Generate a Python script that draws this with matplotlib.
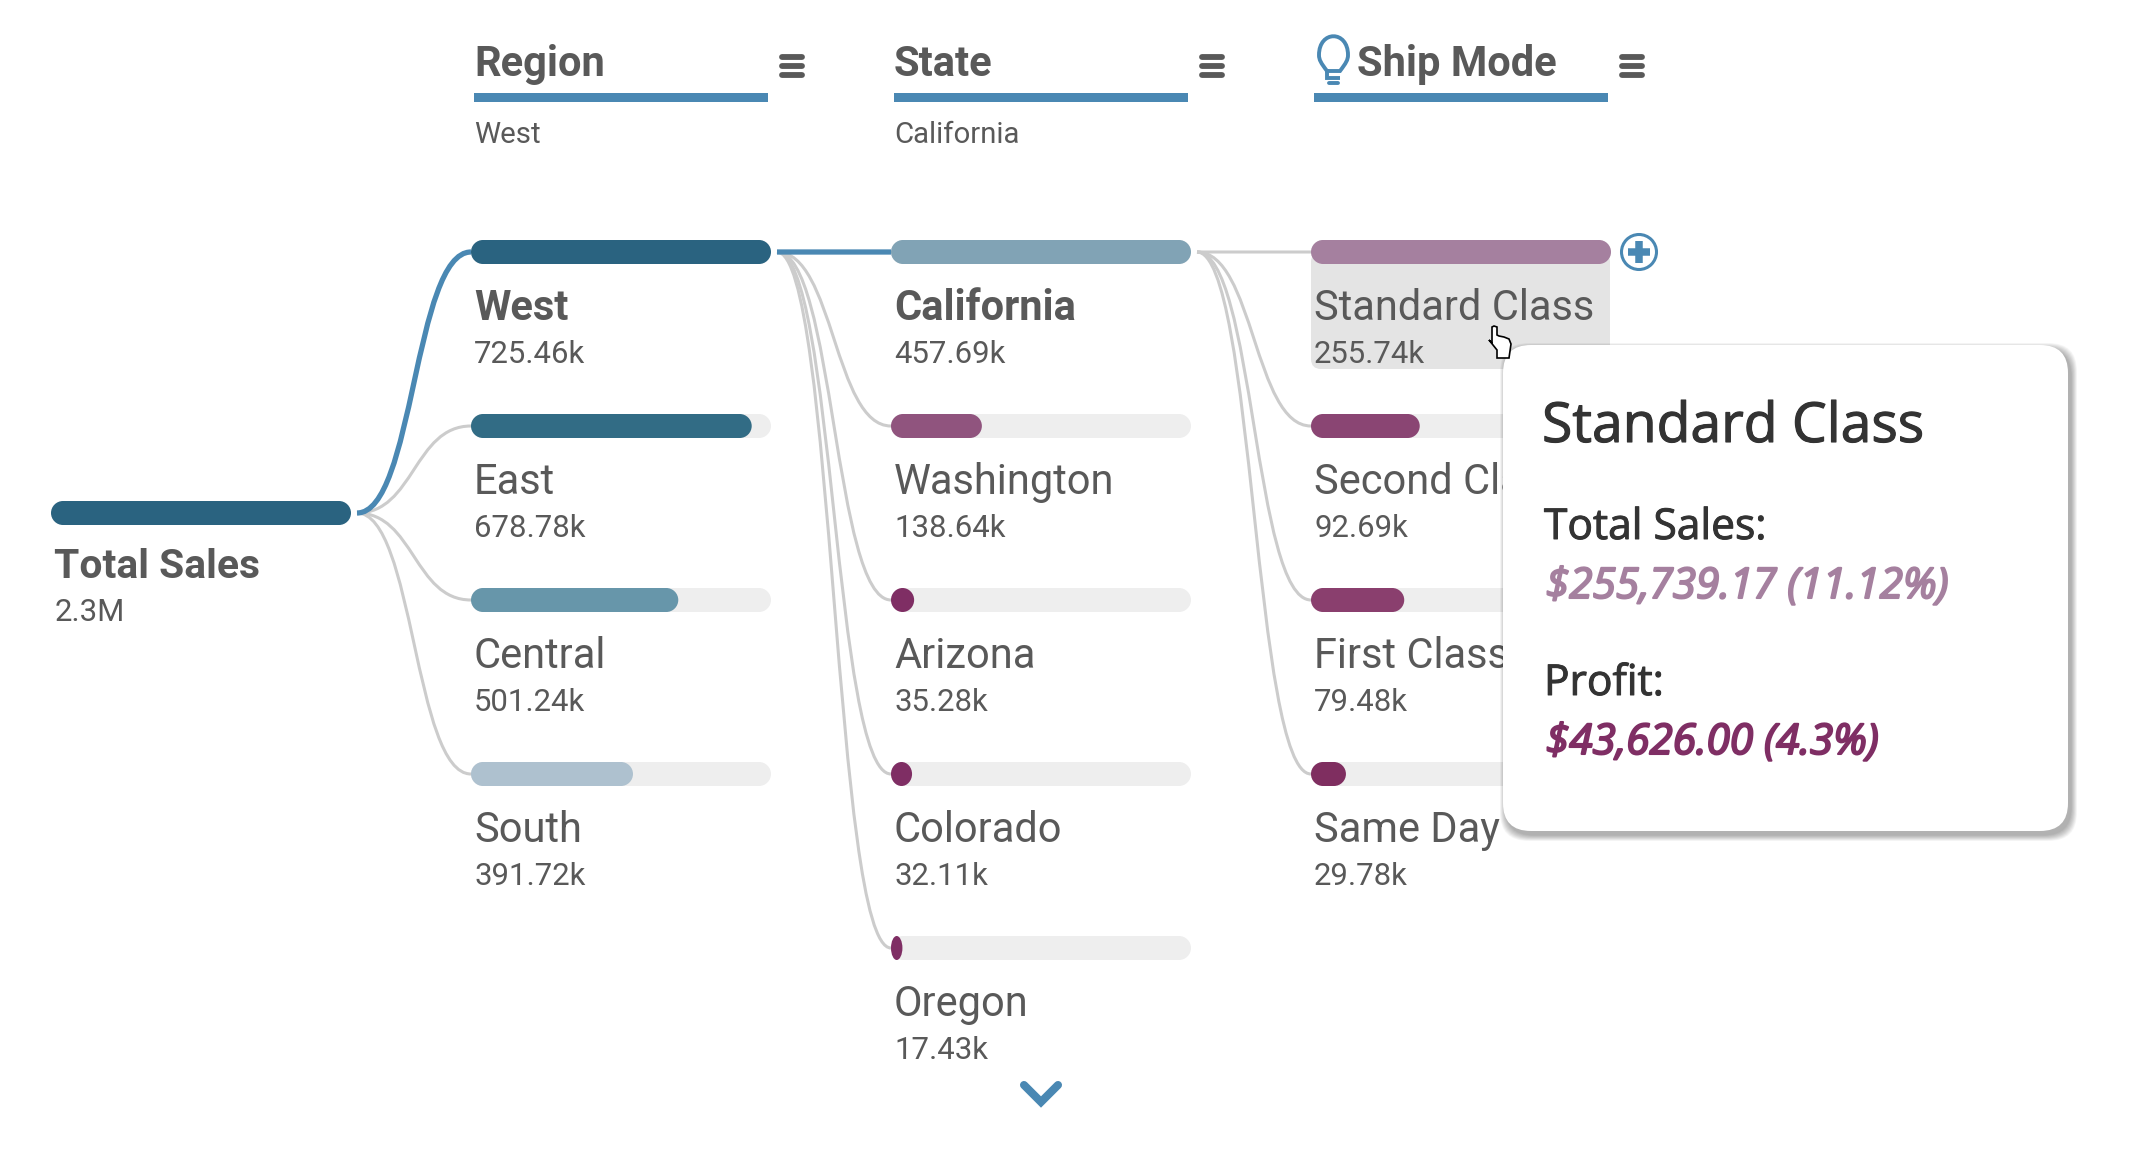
import matplotlib
matplotlib.use('Agg')
import matplotlib.pyplot as plt
import matplotlib.patheffects as pe
from matplotlib.patches import FancyBboxPatch, PathPatch, Circle, Rectangle
from matplotlib.path import Path

# data
regions = ['West', 'East', 'Central', 'South']
region_values = [725.46, 678.78, 501.24, 391.72]
region_colors = ['#2a6380', '#326c85', '#6796aa', '#aec1cf']

states = ['California', 'Washington', 'Arizona', 'Colorado', 'Oregon']
state_values = [457.69, 138.64, 35.28, 32.11, 17.43]
state_colors = ['#81a3b5', '#90547e', '#7f2e64', '#7f2e64', '#7f2e64']

modes = ['Standard Class', 'Second Class', 'First Class', 'Same Day']
mode_values = [255.74, 92.69, 79.48, 29.78]
mode_colors = ['#a5809f', '#8a4573', '#8a3f6e', '#7f2e60']

headers = ['Region', 'State', 'Ship Mode']
selections = ['West', 'California', '']

BLUE = '#4a88b3'
TEXT = '#595959'
TRACK = '#eeeeee'
LINK = '#cccccc'
FONT = 'Roboto'
TIP_FONT = 'Open Sans'

BAR_W = 300
BAR_H = 24
ROW_TOP = 240
ROW_STEP = 174
COL_X = [471, 891, 1311]
ROOT_X = 51
ROOT_Y = 501

fig = plt.figure(figsize=(21.36, 11.52), dpi=100)
ax = fig.add_axes([0, 0, 1, 1])
ax.set_xlim(0, 2136)
ax.set_ylim(1152, 0)
ax.axis('off')


def pill(x, y, w, h, color, rad=12, z=3):
    # rounded bar with proper elliptical ends, also for very short bars
    rx = min(rad, w / 2)
    ry = min(rad, h / 2)
    kx = rx * 0.45
    ky = ry * 0.45
    x1 = x + w
    y1 = y + h
    verts = [(x + rx, y), (x1 - rx, y),
             (x1 - kx, y), (x1, y + ky), (x1, y + ry), (x1, y1 - ry),
             (x1, y1 - ky), (x1 - kx, y1), (x1 - rx, y1), (x + rx, y1),
             (x + kx, y1), (x, y1 - ky), (x, y1 - ry), (x, y + ry),
             (x, y + ky), (x + kx, y), (x + rx, y)]
    codes = [Path.MOVETO, Path.LINETO,
             Path.CURVE4, Path.CURVE4, Path.CURVE4, Path.LINETO,
             Path.CURVE4, Path.CURVE4, Path.CURVE4, Path.LINETO,
             Path.CURVE4, Path.CURVE4, Path.CURVE4, Path.LINETO,
             Path.CURVE4, Path.CURVE4, Path.CURVE4]
    ax.add_patch(PathPatch(Path(verts, codes), fc=color, ec='none', zorder=z))


def link(x0, y0, x1, y1, color=LINK, lw=2.2, z=1):
    mid = (x0 + x1) / 2
    path = Path([(x0, y0), (mid, y0), (mid, y1), (x1, y1)],
                [Path.MOVETO, Path.CURVE4, Path.CURVE4, Path.CURVE4])
    ax.add_patch(PathPatch(path, fc='none', ec=color, lw=lw, zorder=z, capstyle='butt'))


def column(x, names, values, colors, bold_first=True):
    top = max(values)
    for i, (name, val, col) in enumerate(zip(names, values, colors)):
        y = ROW_TOP + i * ROW_STEP
        pill(x, y, BAR_W, BAR_H, TRACK, z=2)
        pill(x, y, val / top * BAR_W, BAR_H, col)
        ax.text(x + 3, y + 80, name, family=FONT, fontsize=30, color=TEXT, va='baseline',
                fontweight='bold' if (bold_first and i == 0) else 'normal', zorder=4)
        ax.text(x + 3, y + 123, f'{val:.2f}k', family=FONT, fontsize=22.4, color=TEXT,
                va='baseline', zorder=4)


def tip_text(x, y, s, size, color, stroke, style='normal'):
    ax.text(x, y, s, family=TIP_FONT, fontsize=size, color=color, style=style, va='baseline', zorder=7,
            path_effects=[pe.withStroke(linewidth=stroke, foreground=color)])


# root node
pill(ROOT_X, ROOT_Y, BAR_W, BAR_H, region_colors[0])
ax.text(ROOT_X + 3, ROOT_Y + 77, 'Total Sales', family=FONT, fontsize=29.3, fontweight='bold',
        color=TEXT, va='baseline')
ax.text(ROOT_X + 4, ROOT_Y + 120, '2.3M', family=FONT, fontsize=22.4, color=TEXT, va='baseline')

# highlighted row behind Standard Class
ax.add_patch(FancyBboxPatch((1311, 252), 299, 117, boxstyle='round,pad=0,rounding_size=10',
                            fc='#e4e4e4', ec='none', zorder=1.5))

column(COL_X[0], regions, region_values, region_colors)
column(COL_X[1], states, state_values, state_colors)
column(COL_X[2], modes, mode_values, mode_colors, bold_first=False)

# links
y_mid = ROW_TOP + BAR_H / 2
for i in range(1, len(regions)):
    link(ROOT_X + BAR_W + 6, ROOT_Y + 12, COL_X[0], y_mid + i * ROW_STEP)
link(ROOT_X + BAR_W + 6, ROOT_Y + 12, COL_X[0], y_mid, color=BLUE, lw=3.8, z=1.2)
for i in range(1, len(states)):
    link(COL_X[0] + BAR_W + 6, y_mid, COL_X[1], y_mid + i * ROW_STEP)
link(COL_X[0] + BAR_W + 6, y_mid, COL_X[1], y_mid, color=BLUE, lw=3.8, z=1.2)
for i in range(len(modes)):
    link(COL_X[1] + BAR_W + 6, y_mid, COL_X[2], y_mid + i * ROW_STEP)

# headers
for x, head, sel in zip(COL_X, headers, selections):
    tx = x + 3 if head != 'Ship Mode' else x + 46
    ax.text(tx, 76, head, family=FONT, fontsize=30, fontweight='bold', color=TEXT, va='baseline')
    ax.add_patch(Rectangle((x + 3, 93), 294, 9, fc=BLUE, ec='none'))
    if sel:
        ax.text(x + 3, 143, sel, family=FONT, fontsize=21.2, color=TEXT, va='baseline')
    for dy in (57, 66, 75):
        ax.plot([x + 311, x + 331], [dy, dy], color=TEXT, lw=4.2, solid_capstyle='round')

# bulb icon
bulb = Path([(1327, 71), (1321, 63), (1319, 60), (1319, 55), (1319, 30), (1348, 30), (1348, 55),
             (1348, 60), (1346, 63), (1340, 71), (1327, 71), (1327, 78), (1340, 78)],
            [Path.MOVETO, Path.CURVE4, Path.CURVE4, Path.CURVE4, Path.CURVE4, Path.CURVE4, Path.CURVE4,
             Path.CURVE4, Path.CURVE4, Path.CURVE4, Path.LINETO, Path.LINETO, Path.LINETO])
ax.add_patch(PathPatch(bulb, fc='none', ec=BLUE, lw=2.8))
ax.plot([1329, 1338], [83, 83], color=BLUE, lw=2.8, solid_capstyle='round')

# plus icon
ax.add_patch(Circle((1639, 252), 17.5, fc='white', ec=BLUE, lw=2.2, zorder=3))
ax.plot([1628, 1650], [252, 252], color=BLUE, lw=5.4, zorder=4, solid_capstyle='butt')
ax.plot([1639, 1639], [241, 263], color=BLUE, lw=5.4, zorder=4, solid_capstyle='butt')

# chevron
ax.plot([1024, 1041, 1058], [1085, 1102, 1085], color=BLUE, lw=5.8, solid_joinstyle='miter',
        solid_capstyle='round')

# tooltip shadow and box
for k in range(12, 0, -1):
    ax.add_patch(FancyBboxPatch((1503 + 3 - k / 2, 345 + 4 - k / 2), 565 + k, 486 + k,
                                boxstyle='round,pad=0,rounding_size=28', fc='#000000', ec='none',
                                alpha=0.026, zorder=5))
ax.add_patch(FancyBboxPatch((1503, 345), 565, 486, boxstyle='round,pad=0,rounding_size=28',
                            fc='white', ec='none', zorder=6))
tip_text(1542, 442, modes[0], 39.8, '#333333', 0.8)
tip_text(1544, 539, 'Total Sales:', 30.6, '#333333', 0.7)
tip_text(1546, 598, '$255,739.17 (11.12%)', 30.4, '#a5809f', 1.5, style='italic')
tip_text(1544, 695, 'Profit:', 30.6, '#333333', 0.7)
tip_text(1546, 754, '$43,626.00 (4.3%)', 30.4, '#7f2e64', 1.5, style='italic')

# hand cursor
hand = [(1489, 340), (1493, 345), (1497, 350), (1497, 358), (1509, 358), (1511, 344), (1509, 339),
        (1504, 337), (1499, 336), (1497, 335), (1497, 327), (1494, 326), (1492, 327), (1492, 343)]
ax.fill(*zip(*hand), fc='white', ec='black', lw=1.2, zorder=8)

fig.savefig('out.png', dpi=100)
